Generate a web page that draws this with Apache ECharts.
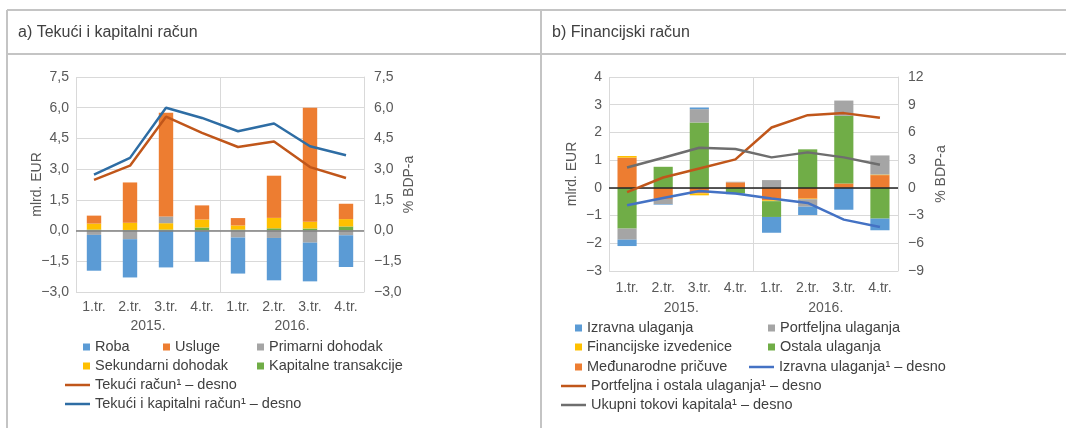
<!DOCTYPE html>
<html>
<head>
<meta charset="utf-8">
<script src="https://cdn.jsdelivr.net/npm/echarts@6/dist/echarts.min.js"></script>
<style>
html,body{margin:0;padding:0;background:#fff;}
#c{width:1066px;height:428px;}
</style>
</head>
<body>
<div id="c"></div>
<script>
// ---------- data ----------
const quarters = ['1.tr.','2.tr.','3.tr.','4.tr.','1.tr.','2.tr.','3.tr.','4.tr.'];
const years = ['2015.','2016.'];

// a) Tekući i kapitalni račun (mlrd. EUR)
const roba       = [-1.75,-1.87,-1.80,-1.49,-1.76,-2.07,-1.89,-1.55];
const usluge     = [0.39,1.97,5.06,0.69,0.36,2.06,5.57,0.75];
const primarni   = [-0.21,-0.42,0.33,-0.03,-0.34,-0.36,-0.59,-0.23];
const sekundarni = [0.29,0.35,0.31,0.39,0.20,0.51,0.33,0.36];
const kapitalne  = [0.05,0.03,0.05,0.15,0.05,0.11,0.10,0.20];
// lines (% BDP-a)
const tekuci     = [2.48,3.17,5.56,4.77,4.08,4.35,3.10,2.57];
const tekuciKap  = [2.73,3.55,6.00,5.50,4.85,5.23,4.12,3.68];

// b) Financijski račun (mlrd. EUR)
const izravna    = [-0.23,-0.02,0.06,-0.03,-0.57,-0.30,-0.79,-0.42];
const portfeljna = [-0.40,-0.19,0.48,0.02,0.28,-0.27,0.55,0.69];
const izvedenice = [0.06,0.00,-0.07,0.00,-0.03,-0.02,0.00,0.02];
const ostala     = [-1.47,0.76,2.36,-0.20,-0.57,1.39,2.44,-1.11];
const pricuve    = [1.09,-0.40,-0.20,0.20,-0.45,-0.39,0.16,0.46];
// lines (% BDP-a)
const izravnaL   = [-1.89,-1.09,-0.33,-0.62,-1.16,-1.63,-3.44,-4.24];
const portfOstL  = [-0.47,1.12,2.10,3.08,6.53,7.87,8.09,7.58];
const ukupniL    = [2.21,3.26,4.35,4.20,3.30,3.84,3.30,2.50];

// ---------- style ----------
const FONT = 'Liberation Sans, Arial, sans-serif';
const AX = '#595959';
const GRID = '#d9d9d9';
const C = {blue:'#5B9BD5', orange:'#ED7D31', gray:'#A5A5A5', yellow:'#FFC000', green:'#70AD47'};

const fmtA = v => (v<0?'\u2212':'') + Math.abs(v).toFixed(1).replace('.',',');
const fmtB = v => (v<0?'\u2212':'') + Math.abs(v);

function xAxes(g){
  return [
    {type:'category', gridIndex:g, data:quarters, axisLine:{show:false}, axisTick:{show:false},
     axisLabel:{color:AX, fontSize:14, fontFamily:FONT, margin: g===0?8:10}, splitLine:{show:false}},
    {type:'category', gridIndex:g, data:years, position:'bottom', axisLine:{show:false},
     axisTick:{show:true, length: g===0?44:45, lineStyle:{color:GRID}},
     axisLabel:{color:AX, fontSize:14, fontFamily:FONT, margin: g===0?27:30},
     splitLine:{show:true, lineStyle:{color:GRID}}}
  ];
}
function yAxes(g, min, max, step, rmin, rmax, rstep, fmt, lgap, rgap){
  return [
    {type:'value', gridIndex:g, min:min, max:max, interval:step, position:'left',
     axisLine:{show:false}, axisTick:{show:false},
     axisLabel:{color:AX, fontSize:14, fontFamily:FONT, margin:7, formatter:fmt},
     splitLine:{lineStyle:{color:GRID}},
     name:'mlrd. EUR', nameLocation:'middle', nameRotate:90, nameGap:lgap, nameMoveOverlap:false,
     nameTextStyle:{color:AX, fontSize:14, fontFamily:FONT}},
    {type:'value', gridIndex:g, min:rmin, max:rmax, interval:rstep, position:'right',
     axisLine:{show:true, lineStyle:{color:GRID}}, axisTick:{show:false},
     axisLabel:{color:AX, fontSize:14, fontFamily:FONT, margin:10, formatter:fmt},
     splitLine:{show:false},
     name:'% BDP-a', nameLocation:'middle', nameRotate:90, nameGap:rgap, nameMoveOverlap:false,
     nameTextStyle:{color:AX, fontSize:14, fontFamily:FONT}}
  ];
}
function bar(name, data, color, g, yi, stack, w, zeroColor){
  const s = {type:'bar', name, data, stack, xAxisIndex:g*2, yAxisIndex:yi, barWidth:w,
    itemStyle:{color}, color, emphasis:{disabled:true}};
  if(zeroColor){
    s.markLine = {silent:true, symbol:'none', label:{show:false}, animation:false,
      lineStyle:{color:zeroColor, width:1.5, type:'solid'}, data:[{yAxis:0}]};
  }
  return s;
}
function line(name, data, color, g, yi){
  return {type:'line', name, data, xAxisIndex:g*2, yAxisIndex:yi, symbol:'none', color,
    lineStyle:{color, width:2.5}, z:5, emphasis:{disabled:true}};
}
function leg(name, left, cy, isLine){
  return {left:left, top:cy-9, padding:0, selectedMode:false, data:[name],
    icon:'rect', itemWidth:isLine?25:7, itemHeight:isLine?2.5:7,
    textStyle:{fontSize:14.5, color:'#404040', fontFamily:FONT, lineHeight:18}};
}

const series = [
  // left chart (stack order from zero outward)
  bar('Kapitalne transakcije', kapitalne, C.green, 0, 0, 'a', '40%'),
  bar('Sekundarni dohodak', sekundarni, C.yellow, 0, 0, 'a', '40%'),
  bar('Primarni dohodak', primarni, C.gray, 0, 0, 'a', '40%'),
  bar('Usluge', usluge, C.orange, 0, 0, 'a', '40%'),
  bar('Roba', roba, C.blue, 0, 0, 'a', '40%', '#7f7f7f'),
  line('Tekući račun\u00b9 \u2013 desno', tekuci, '#C0561A', 0, 1),
  line('Tekući i kapitalni račun\u00b9 \u2013 desno', tekuciKap, '#2E6DA4', 0, 1),
  // right chart
  bar('Međunarodne pričuve', pricuve, C.orange, 1, 2, 'b', '53%'),
  bar('Financijske izvedenice', izvedenice, C.yellow, 1, 2, 'b', '53%'),
  bar('Ostala ulaganja', ostala, C.green, 1, 2, 'b', '53%'),
  bar('Portfeljna ulaganja', portfeljna, C.gray, 1, 2, 'b', '53%'),
  bar('Izravna ulaganja', izravna, C.blue, 1, 2, 'b', '53%', '#222222'),
  line('Izravna ulaganja\u00b9 \u2013 desno', izravnaL, '#4472C4', 1, 3),
  line('Portfeljna i ostala ulaganja\u00b9 \u2013 desno', portfOstL, '#C0561A', 1, 3),
  line('Ukupni tokovi kapitala\u00b9 \u2013 desno', ukupniL, '#6E6E6E', 1, 3)
];

const legends = [
  leg('Roba', 83, 347), leg('Usluge', 163, 347), leg('Primarni dohodak', 257, 347),
  leg('Sekundarni dohodak', 83, 366), leg('Kapitalne transakcije', 257, 366),
  leg('Tekući račun\u00b9 \u2013 desno', 65, 385, true),
  leg('Tekući i kapitalni račun\u00b9 \u2013 desno', 65, 404, true),
  leg('Izravna ulaganja', 575, 328), leg('Portfeljna ulaganja', 768, 328),
  leg('Financijske izvedenice', 575, 347), leg('Ostala ulaganja', 768, 347),
  leg('Međunarodne pričuve', 575, 367), leg('Izravna ulaganja\u00b9 \u2013 desno', 749, 367, true),
  leg('Portfeljna i ostala ulaganja\u00b9 \u2013 desno', 561, 386, true),
  leg('Ukupni tokovi kapitala\u00b9 \u2013 desno', 561, 405, true)
];

const frame = '#c4c4c4';
const graphic = [
  {type:'line', shape:{x1:7, y1:10, x2:1066, y2:10}, style:{stroke:frame, lineWidth:2}, silent:true},
  {type:'line', shape:{x1:7, y1:54, x2:1066, y2:54}, style:{stroke:frame, lineWidth:2}, silent:true},
  {type:'line', shape:{x1:7, y1:10, x2:7, y2:428}, style:{stroke:frame, lineWidth:2}, silent:true},
  {type:'line', shape:{x1:541, y1:10, x2:541, y2:428}, style:{stroke:frame, lineWidth:2}, silent:true},
  {type:'text', left:18, top:25, style:{text:'a) Tekući i kapitalni račun', fill:'#404040', font:'16px ' + FONT}, silent:true},
  {type:'text', left:552, top:25, style:{text:'b) Financijski račun', fill:'#404040', font:'16px ' + FONT}, silent:true}
];

const chart = echarts.init(document.getElementById('c'), null, {renderer:'canvas'});
chart.setOption({
  animation:false,
  backgroundColor:'#ffffff',
  textStyle:{fontFamily:FONT},
  grid:[
    {left:76, top:77, width:288, height:215},
    {left:609, top:77, width:289, height:194}
  ],
  xAxis:[...xAxes(0), ...xAxes(1)],
  yAxis:[
    ...yAxes(0, -3, 7.5, 1.5, -3, 7.5, 1.5, fmtA, 32, 38),
    ...yAxes(1, -3, 4, 1, -9, 12, 3, fmtB, 30, 36)
  ],
  legend: legends,
  series: series,
  graphic: graphic
});
</script>
</body>
</html>
